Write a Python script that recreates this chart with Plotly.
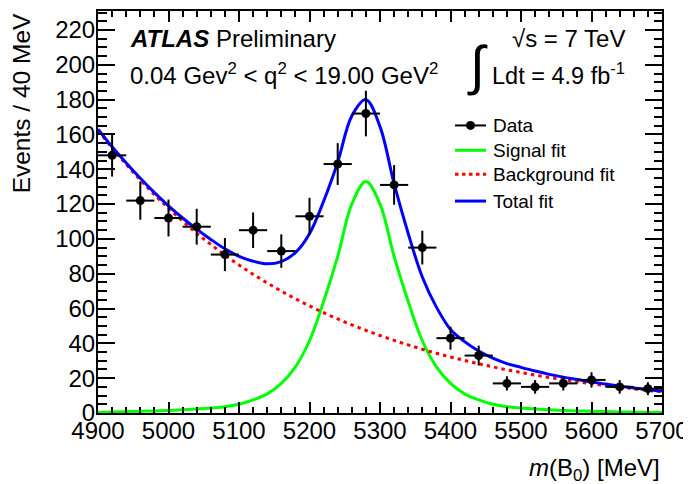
import plotly.graph_objects as go

# ---- data ----
bin_centers = [4920, 4960, 5000, 5040, 5080, 5120, 5160, 5200, 5240, 5280,
               5320, 5360, 5400, 5440, 5480, 5520, 5560, 5600, 5640, 5680]
events = [148, 122, 112, 107, 91, 105, 93, 113, 143, 172,
          131, 95, 43, 33, 17, 15, 17, 19, 15, 14]
event_err = [12.2, 11.0, 10.6, 10.3, 9.5, 10.2, 9.6, 10.6, 12.0, 13.1,
             11.4, 9.7, 6.6, 5.7, 4.1, 3.9, 4.1, 4.4, 3.9, 3.7]
bin_half_width = [20] * 20

fit_x = list(range(4900, 5701, 20))
signal_fit = [0.5, 0.6, 0.8, 1.0, 1.2, 1.4, 1.8, 2.3, 2.9, 3.6,
              5.0, 7.5, 11, 17.0, 26.5, 41.5, 64, 90, 120, 133,
              120, 90, 64, 41.5, 26.5, 17.0, 11, 7.5, 5.0, 3.6,
              2.9, 2.3, 1.8, 1.4, 1.2, 1.0, 0.8, 0.6, 0.5, 0.4, 0.35]
background_fit = [162.5, 152.3, 142.8, 133.8, 125.4, 117.6, 110.2, 103.3, 96.8, 90.7,
                  85.0, 79.7, 74.7, 70.0, 65.6, 61.5, 57.6, 54.0, 50.6, 47.5,
                  44.5, 41.7, 39.1, 36.6, 34.3, 32.2, 30.2, 28.3, 26.5, 24.8,
                  23.3, 21.8, 20.4, 19.2, 18.0, 16.8, 15.8, 14.8, 13.9, 13.0, 12.2]
total_fit = [163.0, 152.9, 143.6, 134.8, 126.6, 119.0, 112.0, 105.6, 99.7, 94.3,
             90.0, 87.2, 85.7, 87.0, 92.1, 103.0, 121.6, 144.0, 170.6, 180.0,
             164.5, 131.7, 103.1, 78.1, 60.8, 48.0, 41.0, 35.6, 31.5, 28.4,
             26.2, 24.1, 22.2, 20.6, 19.2, 17.8, 16.6, 15.4, 14.4, 13.4, 12.6]

legend_labels = ["Data", "Signal fit", "Background fit", "Total fit"]

x_ticks = [4900, 5000, 5100, 5200, 5300, 5400, 5500, 5600, 5700]
y_ticks = [0, 20, 40, 60, 80, 100, 120, 140, 160, 180, 200, 220]

FONT = "Liberation Sans, Arial, Helvetica, sans-serif"
GREEN = "#00ff00"
RED = "#ff0000"
BLUE = "#0000ff"

fig = go.Figure()

fig.add_trace(go.Scatter(x=fit_x, y=signal_fit, mode="lines",
                         line=dict(color=GREEN, width=3, shape="spline", smoothing=1.0),
                         name=legend_labels[1], hoverinfo="skip"))
fig.add_trace(go.Scatter(x=fit_x, y=background_fit, mode="lines",
                         line=dict(color=RED, width=3, dash="3.5px,4px", shape="spline"),
                         name=legend_labels[2], hoverinfo="skip"))
fig.add_trace(go.Scatter(x=fit_x, y=total_fit, mode="lines",
                         line=dict(color=BLUE, width=3, shape="spline"),
                         name=legend_labels[3], hoverinfo="skip"))
fig.add_trace(go.Scatter(x=bin_centers, y=events, mode="markers",
                         marker=dict(color="black", size=9, symbol="circle"),
                         error_y=dict(type="data", array=event_err, color="black",
                                      thickness=2, width=0),
                         error_x=dict(type="data", array=bin_half_width, color="black",
                                      thickness=2, width=0),
                         name=legend_labels[0]))

# ---- manual ROOT-style legend (paper coordinates) ----
key_x0, key_x1, text_x = 0.633, 0.688, 0.697
rows_y = [0.7153, 0.6535, 0.594, 0.5272]
key_styles = [
    dict(color="black", width=2, dash="solid"),
    dict(color=GREEN, width=3, dash="solid"),
    dict(color=RED, width=3, dash="3.5px,3.5px"),
    dict(color=BLUE, width=3, dash="solid"),
]
shapes = []
annotations = []
for label, ry, st in zip(legend_labels, rows_y, key_styles):
    shapes.append(dict(type="line", xref="paper", yref="paper",
                       x0=key_x0, x1=key_x1, y0=ry, y1=ry, line=st))
    annotations.append(dict(xref="paper", yref="paper", x=text_x, y=ry,
                            text=label, showarrow=False, xanchor="left",
                            yanchor="middle", font=dict(family=FONT, size=19)))
cx = (key_x0 + key_x1) / 2
shapes.append(dict(type="circle", xref="paper", yref="paper",
                   x0=cx - 0.008, x1=cx + 0.008,
                   y0=rows_y[0] - 0.0111, y1=rows_y[0] + 0.0111,
                   fillcolor="black", line=dict(color="black", width=0)))

# ---- texts ----
annotations += [
    dict(xref="paper", yref="paper", x=0.0532, y=0.932, xanchor="left", yanchor="middle",
         text="<b><i>ATLAS</i></b> Preliminary", showarrow=False,
         font=dict(family=FONT, size=24)),
    dict(xref="paper", yref="paper", x=0.0532, y=0.844, xanchor="left", yanchor="middle",
         text="0.04 Gev<sup>2</sup> < q<sup>2</sup> < 19.00 GeV<sup>2</sup>", showarrow=False,
         font=dict(family=FONT, size=24)),
    dict(xref="paper", yref="paper", x=0.938, y=0.932, xanchor="right", yanchor="middle",
         text="√s = 7 TeV", showarrow=False, font=dict(family=FONT, size=24)),
    dict(xref="paper", yref="paper", x=0.938, y=0.844, xanchor="right", yanchor="middle",
         text="Ldt = 4.9 fb<sup>-1</sup>", showarrow=False, font=dict(family=FONT, size=23.5)),
    dict(xref="paper", yref="paper", x=0.673, y=0.864, xanchor="center", yanchor="middle",
         text="∫", showarrow=False, font=dict(family=FONT, size=54)),
    dict(xref="paper", yref="paper", x=-0.136, y=0.771, xanchor="center", yanchor="middle",
         text="Events / 40 MeV", textangle=-90, showarrow=False,
         font=dict(family=FONT, size=24.5)),
    dict(xref="paper", yref="paper", x=1.0, y=-0.098, xanchor="right", yanchor="top",
         text="<i>m</i>(B<sub>0</sub>) [MeV]", showarrow=False,
         font=dict(family=FONT, size=24)),
]

axis_common = dict(showline=True, linewidth=2, linecolor="black", mirror="allticks",
                   ticks="inside", tickwidth=2, tickcolor="black", showgrid=False,
                   zeroline=False, tickfont=dict(family=FONT, size=24, color="black"))

# The page body has an 8px offset, so the figure is 8px smaller in each direction.
fig.update_layout(
    width=683, height=476,
    margin=dict(l=90, r=29, t=1, b=71),
    plot_bgcolor="white", paper_bgcolor="white",
    showlegend=False,
    font=dict(family=FONT, color="black"),
    shapes=shapes, annotations=annotations,
    xaxis=dict(range=[4900, 5700], tickvals=x_ticks, ticklen=11, ticklabelstandoff=-5,
               minor=dict(ticks="inside", dtick=20, tick0=4900, ticklen=6, tickwidth=2,
                          tickcolor="black", showgrid=False),
               **axis_common),
    yaxis=dict(range=[0, 230.9], tickvals=y_ticks, ticklen=17, ticklabelstandoff=-4,
               minor=dict(ticks="inside", dtick=5, tick0=0, ticklen=8.5, tickwidth=2,
                          tickcolor="black", showgrid=False),
               **axis_common),
)

fig.write_html("out.html")
